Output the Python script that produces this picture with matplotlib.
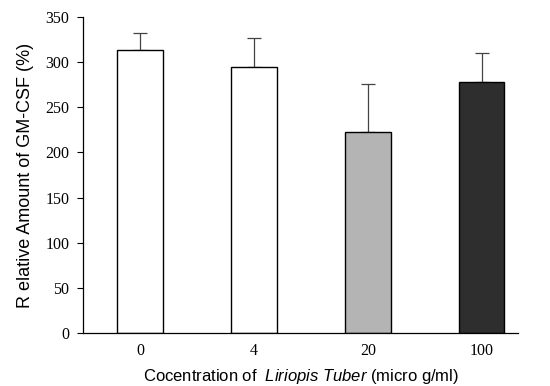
import matplotlib
matplotlib.use("Agg")
import matplotlib.pyplot as plt
import numpy as np

plt.rcParams["mathtext.fontset"] = "custom"
plt.rcParams["mathtext.it"] = "Liberation Sans:italic"
plt.rcParams["mathtext.rm"] = "Liberation Sans"

# values
concentrations = ["0", "4", "20", "100"]
means = [314, 295, 223, 278]
errors = [18, 32, 53, 32]
bar_colors = ["white", "white", "#b4b4b4", "#2e2e2e"]
y_ticks = [0, 50, 100, 150, 200, 250, 300, 350]

fig = plt.figure(figsize=(5.5, 3.86), dpi=100)
ax = fig.add_axes([0.151, 0.137, 0.791, 0.819])

x = np.arange(len(concentrations))
ax.bar(x, means, width=0.4, color=bar_colors, edgecolor="black", linewidth=1.0, zorder=2)
ax.errorbar(x, means, yerr=[np.zeros(len(errors)), errors], fmt="none",
            ecolor="#444444", elinewidth=0.9, capsize=5, capthick=0.9, zorder=1)

ax.set_xlim(-0.5, 3.32)
ax.set_ylim(0, 350)
ax.set_yticks(y_ticks)
ax.set_xticks(x)
ax.set_xticklabels(concentrations)

for lab in ax.get_xticklabels() + ax.get_yticklabels():
    lab.set_fontfamily("Liberation Serif")
    lab.set_fontsize(11.5)

ax.tick_params(axis="x", length=0, pad=7)
ax.tick_params(axis="y", length=4, width=0.8, pad=6)

ax.spines["top"].set_visible(False)
ax.spines["right"].set_visible(False)
ax.spines["left"].set_linewidth(0.9)
ax.spines["bottom"].set_linewidth(0.9)

ax.set_ylabel("R elative Amount of GM-CSF (%)", fontfamily="Liberation Sans", fontsize=13, labelpad=8)
ax.set_xlabel(r"Cocentration of  $\it{Liriopis\ Tuber}$ (micro g/ml)", fontfamily="Liberation Sans",
              fontsize=12, labelpad=6)

fig.savefig("out.png", dpi=100)
